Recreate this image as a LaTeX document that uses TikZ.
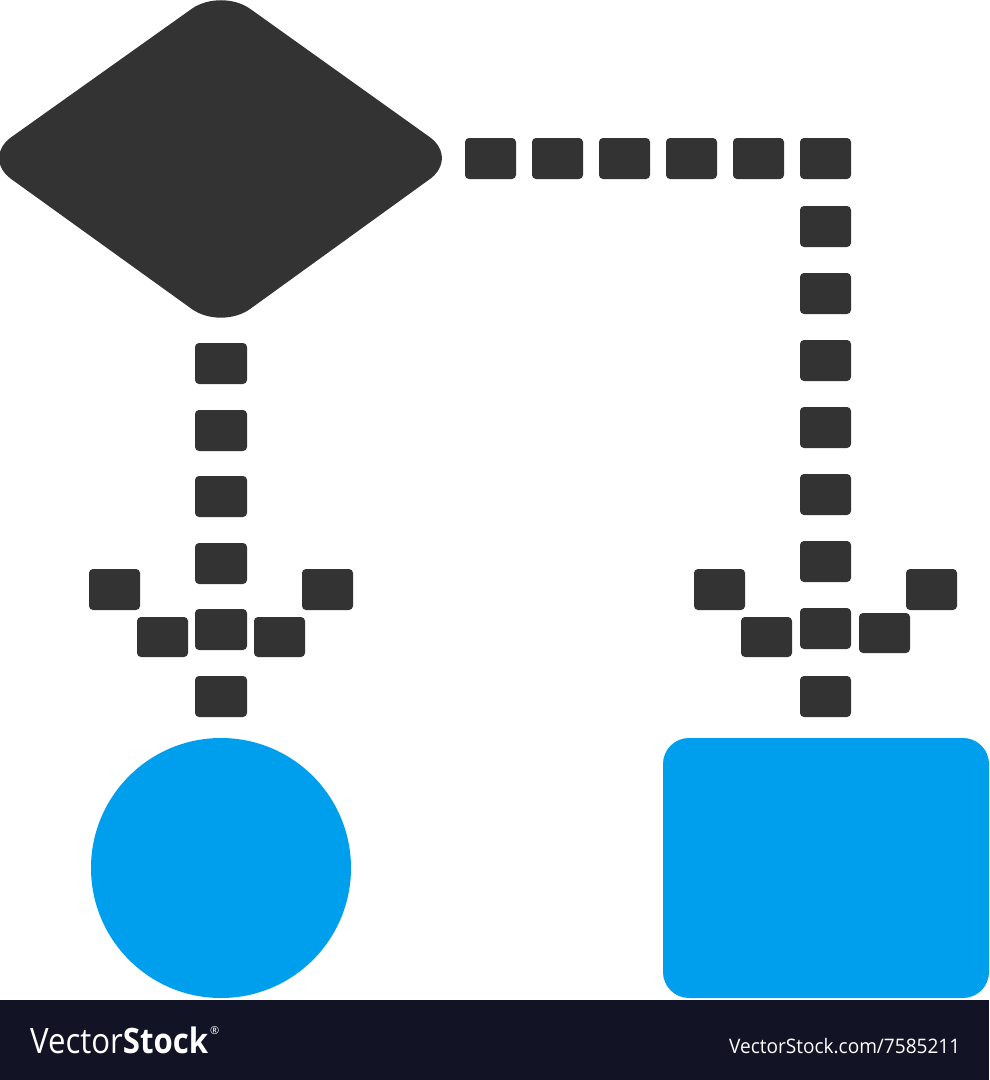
\documentclass[tikz,border=0pt]{standalone}
\usepackage{fontspec}
\setmainfont{Open Sans}
\usepackage{graphicx}
\definecolor{dark}{HTML}{333333}
\definecolor{iconblue}{HTML}{009FEE}
\definecolor{banner}{HTML}{121426}
\begin{document}
\begin{tikzpicture}[x=1pt,y=-1pt,
  sq/.style={fill=dark,rounded corners=4pt},
  shapedark/.style={fill=dark,rounded corners=36pt},
  shapeblue/.style={fill=iconblue},
  lbl/.style={text=white,inner sep=0pt,anchor=base west}]
\useasboundingbox (0,0) rectangle (989,1080);
\fill[white] (0,0) rectangle (989,1080);
% decision diamond
\fill[shapedark] (221,-12) -- (459,158) -- (221,330) -- (-18,158) -- cycle;
% left connector (vertical)
\foreach \y in {343,410,476,543,609,676}
  \fill[sq] (195,\y) rectangle (247,\y+41);
% left arrowhead
\fill[sq] (89,569) rectangle (140,610);
\fill[sq] (137,617) rectangle (188,657);
\fill[sq] (254,617) rectangle (305,657);
\fill[sq] (302,569) rectangle (353,610);
% top connector (horizontal)
\foreach \x in {465,532,599,666,733}
  \fill[sq] (\x,138) rectangle (\x+51,179);
% right connector (vertical)
\foreach \y in {138,206,273,340,407,474,541,608,676}
  \fill[sq] (800,\y) rectangle (851,\y+41);
% right arrowhead
\fill[sq] (694,569) rectangle (745,610);
\fill[sq] (741,617) rectangle (792,657);
\fill[sq] (859,613) rectangle (910,653);
\fill[sq] (906,569) rectangle (957,610);
% blue shapes
\fill[shapeblue] (221,868) circle (130);
\fill[shapeblue,rounded corners=26pt] (663,738) rectangle (989,998);
% banner
\fill[banner] (0,1000) rectangle (989,1080);
\node[lbl,font=\fontsize{35}{40}\selectfont] (brand) at (30,1053)
  {\resizebox{178pt}{\height}{Vector\textbf{Stock}}};
\node[lbl,font=\fontsize{11}{12}\selectfont] (reg) at (210,1034) {®};
\node[lbl,font=\fontsize{20}{24}\selectfont] (url) at (729,1053)
  {\resizebox{231pt}{\height}{VectorStock.com/7585211}};
\end{tikzpicture}
\end{document}
